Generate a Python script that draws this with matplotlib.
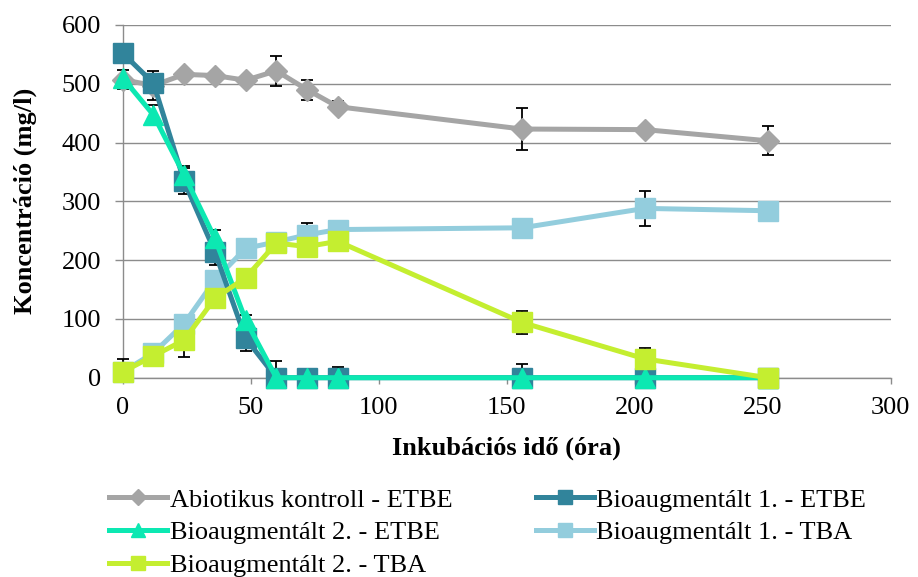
import matplotlib.pyplot as plt
import numpy as np

plt.rcParams['font.family'] = ['Liberation Serif', 'DejaVu Serif']

# mintavételi időpontok (óra)
ido = [0, 12, 24, 36, 48, 60, 72, 84, 156, 204, 252]

abiotikus_etbe = [507, 497, 516, 514, 506, 522, 490, 461, 423, 422, 403]
abiotikus_etbe_err = [16, 24, 0, 0, 0, 26, 17, 9, 36, 0, 25]

bio1_etbe = [552, 501, 334, 214, 67, 0, 0, 0, 0, 0, 0]
bio1_etbe_err = [0, 0, 22, 22, 22, 28, 0, 19, 24, 0, 0]

bio2_etbe = [510, 447, 345, 237, 98, 0, 0, 0, 0, 0, 0]
bio2_etbe_err = [0, 17, 15, 15, 9, 0, 0, 0, 0, 0, 0]

bio1_tba = [10, 42, 92, 166, 220, 231, 243, 252, 255, 288, 284]
bio1_tba_err = [0, 0, 15, 0, 0, 0, 21, 0, 0, 30, 0]

bio2_tba = [10, 37, 64, 135, 170, 229, 223, 232, 94, 32, 0]
bio2_tba_err = [22, 0, 28, 0, 0, 0, 0, 0, 20, 18, 0]

cimkek = ['Abiotikus kontroll - ETBE', 'Bioaugmentált 1. - ETBE',
          'Bioaugmentált 2. - ETBE', 'Bioaugmentált 1. - TBA',
          'Bioaugmentált 2. - TBA']

sorozatok = [
    (abiotikus_etbe, abiotikus_etbe_err, '#A5A5A5', 'D', 11, 2),
    (bio1_etbe, bio1_etbe_err, '#31849B', 's', 14, 4),
    (bio2_etbe, bio2_etbe_err, '#0CE8B2', '^', 14, 5),
    (bio1_tba, bio1_tba_err, '#93CDDD', 's', 14, 3),
    (bio2_tba, bio2_tba_err, '#C4EE30', 's', 14, 6),
]

fig = plt.figure(figsize=(9.18, 5.77), dpi=100)
ax = fig.add_axes([0.1337, 0.3454, 0.8365, 0.6113])

vonalak = []
for (y, err, szin, marker, ms, z), cimke in zip(sorozatok, cimkek):
    y = np.array(y, dtype=float)
    err = np.array(err, dtype=float)
    van = err > 0
    # nulla alá nem nyúlik a hibasáv
    also = np.minimum(err, y)[van]
    eb = ax.errorbar(np.array(ido)[van], y[van], yerr=[also, err[van]],
                     fmt='none', ecolor='black', elinewidth=1.3, capsize=4.5,
                     capthick=1.3, zorder=1.5)
    for art in eb.lines[1] + eb.lines[2]:
        art.set_clip_on(False)
    ln, = ax.plot(ido, y, color=szin, marker=marker, markersize=ms,
                  linewidth=3.6, label=cimke, zorder=z, clip_on=False)
    vonalak.append(ln)

ax.set_xlim(0, 300)
ax.set_ylim(0, 600)
ax.set_xticks(np.arange(0, 301, 50))
ax.set_yticks(np.arange(0, 601, 100))
ax.grid(axis='y', color='#8C8C8C', linewidth=1.0)
ax.set_axisbelow(True)

for s in ['top', 'right']:
    ax.spines[s].set_visible(False)
for s in ['left', 'bottom']:
    ax.spines[s].set_color('#8C8C8C')
    ax.spines[s].set_linewidth(1.0)
    ax.spines[s].set_zorder(1)

ax.tick_params(axis='both', colors='#8C8C8C', labelcolor='black',
               labelsize=19, width=1.0)
ax.tick_params(axis='x', length=4, pad=10)
ax.tick_params(axis='y', length=5.5, pad=10)

ax.set_xlabel('Inkubációs idő (óra)', fontsize=19, fontweight='bold', labelpad=12.5)
ax.set_ylabel('Koncentráció (mg/l)', fontsize=19, fontweight='bold', labelpad=18)

# oszloponként töltődik fel, ezért átrendezve
sorrend = [0, 2, 4, 1, 3]
fig.legend([vonalak[i] for i in sorrend], [cimkek[i] for i in sorrend],
           ncol=2, loc='upper left', bbox_to_anchor=(0.119, 0.154),
           frameon=False, fontsize=19, handlelength=2.2, handletextpad=0.1,
           columnspacing=3.15, labelspacing=0.35, borderpad=0,
           borderaxespad=0, markerscale=0.75)

fig.savefig('out.png', dpi=100)
